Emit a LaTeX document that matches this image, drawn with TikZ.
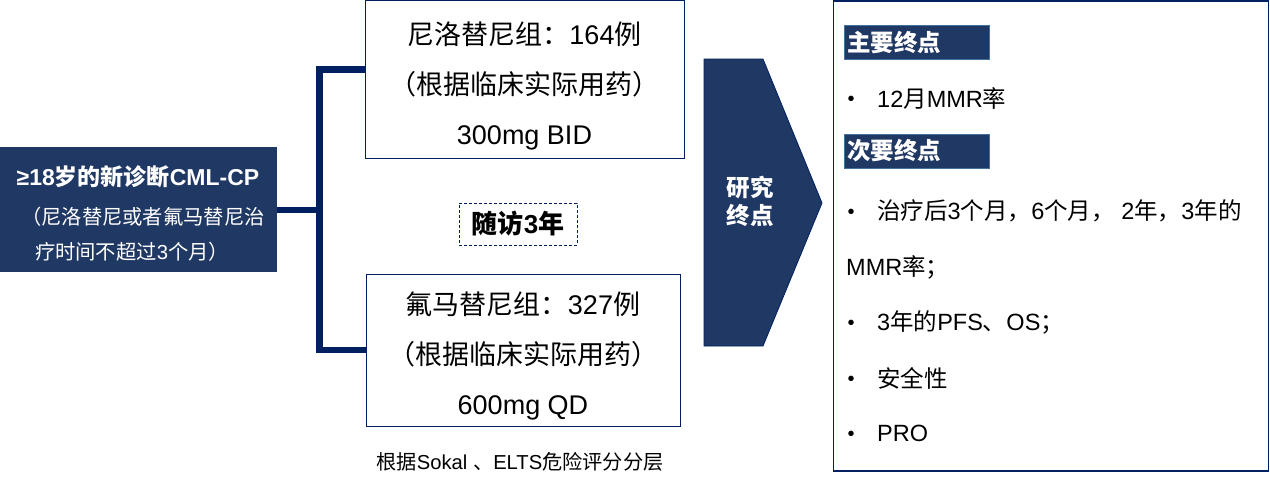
\documentclass[tikz,border=0pt]{standalone}
\usepackage{fontspec}
\setmainfont{Liberation Sans}
\newfontfamily\cjk{Noto Sans CJK SC}
\newcommand{\zh}[1]{{\cjk #1}}
\definecolor{navy}{HTML}{203864}
\definecolor{deepnavy}{HTML}{002060}
\definecolor{lblue}{HTML}{41719C}
\tikzset{
  x=1pt, y=-1pt,
  armbox/.style={draw=deepnavy, line width=1pt, fill=white, inner sep=0pt},
  armtext/.style={inner sep=0pt, align=center, font=\fontsize{27}{50}\selectfont},
  bracketline/.style={draw=deepnavy, line width=6.5pt},
  hdr/.style={draw=lblue, line width=1pt, fill=navy, text=white, inner sep=0pt,
    font=\fontsize{23.5}{28}\selectfont\bfseries, minimum width=145pt, minimum height=34pt,
    text width=139pt, align=left},
  item/.style={anchor=west, inner sep=0pt, font=\fontsize{23.5}{28}\selectfont},
  bul/.style={anchor=center, inner sep=0pt, font=\fontsize{20}{24}\selectfont},
}
\begin{document}
\begin{tikzpicture}
\useasboundingbox (0,0) rectangle (1270,485);
% left box
\node[fill=navy, inner sep=0pt, minimum width=277pt, minimum height=125pt] (src) at (138.5,209.5) {};
\node[text=white, inner sep=0pt, font=\fontsize{23}{28}\selectfont\bfseries] (srct) at (138,177) {≥18\zh{岁的新诊断}CML-CP};
\node[text=white, inner sep=0pt, font=\fontsize{20.3}{24}\selectfont] (srcs1) at (143,217) {\zh{（尼洛替尼或者氟马替尼治}};
\node[text=white, inner sep=0pt, font=\fontsize{20.3}{24}\selectfont] (srcs2) at (132,252) {\zh{疗时间不超过}3\zh{个月）}};
% arm boxes
\node[armbox, minimum width=319pt, minimum height=158pt] (armA) at (524.5,79) {};
\node[armtext] (armAt) at (524.5,86) {\zh{尼洛替尼组：}164\zh{例}\\ \zh{（根据临床实际用药）}\\ 300mg BID};
\node[armbox, minimum width=314pt, minimum height=152pt] (armB) at (523,350) {};
\node[armtext] (armBt) at (523,356) {\zh{氟马替尼组：}327\zh{例}\\ \zh{（根据临床实际用药）}\\ 600mg QD};
% bracket
\coordinate (jx) at (319.5,210);
\draw[bracketline] (src.east |- jx) -- (jx);
\draw[bracketline] (armA.west |- 0,69.5) -- (319.5,69.5) -- (319.5,350) -- (armB.west |- 0,350);
% follow up
\node[draw=deepnavy, dash pattern=on 3pt off 2pt, line width=1pt, inner sep=0pt, minimum width=118pt, minimum height=42pt,
  font=\fontsize{26}{30}\selectfont\bfseries] (fu) at (518,224) {\zh{随访}3\zh{年}};
% caption
\node[inner sep=0pt, font=\fontsize{20.2}{24}\selectfont] (cap) at (520,462) {\zh{根据}Sokal \zh{、}ELTS\zh{危险评分分层}};
% chevron
\path[fill=navy, draw=deepnavy, line width=0.8pt] (704,59) -- (763,59) -- (822,203) -- (763,346) -- (704,346) -- cycle;
\node[text=white, align=center, inner sep=0pt, font=\fontsize{23.5}{28}\selectfont\bfseries] (chev) at (750,201) {\zh{研究}\\ \zh{终点}};
% right box
\node[draw=deepnavy, line width=1.5pt, inner sep=0pt, minimum width=435pt, minimum height=470pt] (ep) at (1051,236) {};
\node[hdr] (h1) at (916.5,42.5) {\zh{主要终点}};
\node[hdr] (h2) at (916.5,151) {\zh{次要终点}};
\node[bul] (b1) at (851,101) {•};
\node[item] (i1) at (877,98) {12\zh{月}MMR\zh{率}};
\node[bul] (b2) at (851,214) {•};
\node[item] (i2) at (877,211) {\zh{治疗后}3\zh{个月，}6\zh{个月，} 2\zh{年，}3\zh{年的}};
\node[item] (i2b) at (846,267) {MMR\zh{率；}};
\node[bul] (b3) at (851,325) {•};
\node[item] (i3) at (877,322) {3\zh{年的}PFS\zh{、}OS\zh{；}};
\node[bul] (b4) at (851,381) {•};
\node[item] (i4) at (877,378) {\zh{安全性}};
\node[bul] (b5) at (851,436) {•};
\node[item] (i5) at (877,433) {PRO};
\end{tikzpicture}
\end{document}
